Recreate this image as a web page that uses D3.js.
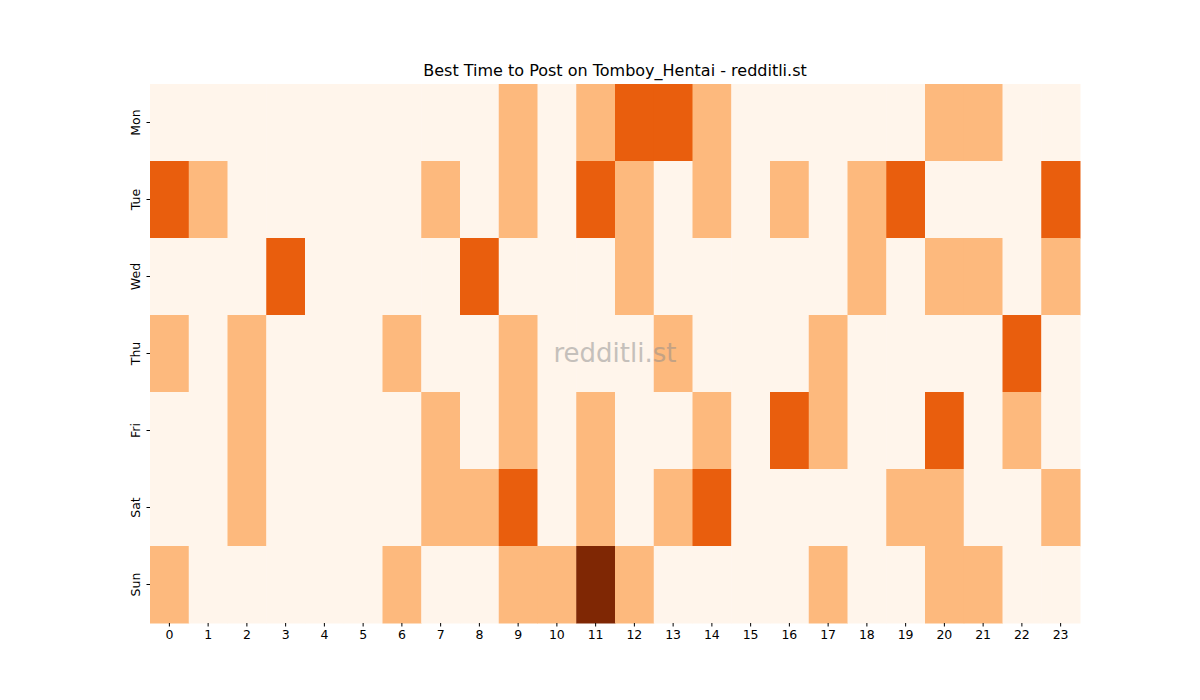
<!DOCTYPE html>
<html>
<head>
<meta charset="utf-8">
<script src="https://cdn.jsdelivr.net/npm/d3@7"></script>
<style>
  body { margin: 0; background: #fff; }
  text { font-family: "DejaVu Sans", sans-serif; }
</style>
</head>
<body>
<div id="chart"></div>
<script>
// Chart data
var days = ["Mon", "Tue", "Wed", "Thu", "Fri", "Sat", "Sun"];
var hours = d3.range(24);
var mon = [0,0,0,0,0,0,0,0,0,1,0,1,2,2,1,0,0,0,0,0,1,1,0,0];
var tue = [2,1,0,0,0,0,0,1,0,1,0,2,1,0,1,0,1,0,1,2,0,0,0,2];
var wed = [0,0,0,2,0,0,0,0,2,0,0,0,1,0,0,0,0,0,1,0,1,1,0,1];
var thu = [1,0,1,0,0,0,1,0,0,1,0,0,0,1,0,0,0,1,0,0,0,0,2,0];
var fri = [0,0,1,0,0,0,0,1,0,1,0,1,0,0,1,0,2,1,0,0,2,0,1,0];
var sat = [0,0,1,0,0,0,0,1,1,2,0,1,0,1,2,0,0,0,0,1,1,0,0,1];
var sun = [1,0,0,0,0,0,1,0,0,1,1,3,1,0,0,0,0,1,0,0,1,1,0,0];
var rows = [mon, tue, wed, thu, fri, sat, sun];
var levelColors = ["#fff5eb", "#fdb97d", "#e95e0d", "#7f2704"];

var svgWidth = 1200, svgHeight = 700;
var margin = {top: 84, right: 120, bottom: 77, left: 150};
var width = svgWidth - margin.left - margin.right;
var height = svgHeight - margin.top - margin.bottom;

var svg = d3.select("#chart").append("svg")
  .attr("width", svgWidth).attr("height", svgHeight);
var g = svg.append("g").attr("transform", `translate(${margin.left},${margin.top})`);

var x = d3.scaleBand().domain(hours).range([0, width]);
var y = d3.scaleBand().domain(days).range([0, height]);
var color = d3.scaleOrdinal().domain([0, 1, 2, 3]).range(levelColors);

var cells = [];
rows.forEach((r, i) => r.forEach((v, h) => cells.push({day: days[i], hour: h, v: v})));

g.selectAll("rect").data(cells).join("rect")
  .attr("x", d => x(d.hour))
  .attr("y", d => y(d.day))
  .attr("width", x.bandwidth() + 0.5)
  .attr("height", y.bandwidth() + 0.5)
  .attr("fill", d => color(d.v));

// Axes
var xAxis = g.append("g").attr("transform", `translate(0,${height})`)
  .call(d3.axisBottom(x).tickSize(3.5).tickPadding(4));
var yAxis = g.append("g").call(d3.axisLeft(y).tickSize(3.5).tickPadding(4));
[xAxis, yAxis].forEach(a => {
  a.select(".domain").remove();
  a.selectAll("text").attr("font-size", 12.5).attr("fill", "#000")
    .style("font-family", "DejaVu Sans, sans-serif");
});
yAxis.selectAll(".tick text")
  .attr("transform", "rotate(-90)")
  .attr("x", 0).attr("y", -10).attr("dy", 0)
  .attr("text-anchor", "middle");

// Title
svg.append("text")
  .attr("x", margin.left + width / 2).attr("y", 76)
  .attr("text-anchor", "middle").attr("font-size", 16)
  .text("Best Time to Post on Tomboy_Hentai - redditli.st");

// Watermark
svg.append("text")
  .attr("x", margin.left + width / 2).attr("y", 362)
  .attr("text-anchor", "middle").attr("font-size", 26)
  .attr("fill", "#8c8c8c").attr("opacity", 0.5)
  .text("redditli.st");
</script>
</body>
</html>
